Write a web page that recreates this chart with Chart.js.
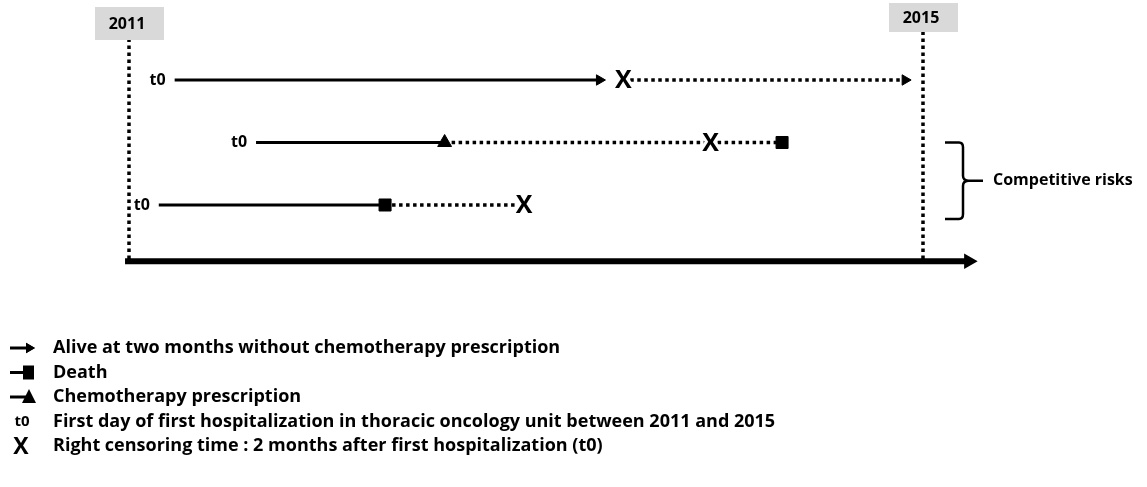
<!DOCTYPE html>
<html>
<head>
<meta charset="utf-8">
<script src="https://cdn.jsdelivr.net/npm/chart.js@4"></script>
<style>
  html, body { margin: 0; padding: 0; background: #fff; }
  #wrap { width: 1147px; height: 487px; }
</style>
</head>
<body>
<div id="wrap"><canvas id="timeline" width="1147" height="487"></canvas></div>
<script>
// rows of the diagram (1 = top)
const rowIds = [1, 2, 3];
// follow-up of each example patient, in calendar years
const t0Years = [2011.23, 2011.64, 2011.15];
const eventYears = [2013.37, 2012.59, 2012.29];
const eventKinds = ['alive', 'chemo', 'death'];
const censorYears = [2013.49, 2013.93, 2012.99];
const dottedFromYears = [2013.49, 2012.59, 2012.29];
const dottedToYears = [2014.91, 2014.29, 2012.99];
const dottedEndKinds = ['alive', 'death', null];
// study period
const periodYears = [2011, 2015];
const periodLabels = ['2011', '2015'];
const axisYears = [2010.98, 2015.23];
const axisRow = 3.9;
const braceRows = [2, 3];
const braceLabel = 'Competitive risks';

const legendIcons = ['alive', 'death', 'chemo', 't0', 'censor'];
const legendTexts = [
	'Alive at two months without chemotherapy prescription',
	'Death',
	'Chemotherapy prescription',
	'First day of first hospitalization in thoracic oncology unit between 2011 and 2015',
	'Right censoring time : 2 months after first hospitalization (t0)',
];

const FONT = '"Open Sans", Lato, sans-serif';
const BLACK = '#000';

const markerStyle = (kind) => {
	if (kind == 'alive') return { pointStyle: 'triangle', radius: 6, rotation: 90 };
	if (kind == 'chemo') return { pointStyle: 'triangle', radius: 8, rotation: 0 };
	if (kind == 'death') return { pointStyle: 'rect', radius: 8.5, rotation: 0 };
	return null;
};

const datasets = [];

// dotted vertical lines at the start and end of the period
periodYears.forEach((yr) => {
	datasets.push({
		data: [{ x: yr, y: 0 }, { x: yr, y: axisRow }],
		borderColor: BLACK,
		borderWidth: 3.5,
		borderDash: [3.5, 3.5],
		pointRadius: 0,
	});
});

// time axis
datasets.push({
	data: [{ x: axisYears[0], y: axisRow }, { x: axisYears[1], y: axisRow }],
	borderColor: BLACK,
	backgroundColor: BLACK,
	borderWidth: 6,
	borderCapStyle: 'butt',
	pointRadius: [0, 9],
	pointStyle: 'triangle',
	pointRotation: 90,
	pointBorderWidth: 0,
});

rowIds.forEach((row, i) => {
	// observed follow-up (solid)
	datasets.push({
		data: [{ x: t0Years[i], y: row }, { x: eventYears[i], y: row }],
		borderColor: BLACK,
		borderWidth: 3,
		pointRadius: 0,
	});
	// after event / censoring (dotted)
	datasets.push({
		data: [{ x: dottedFromYears[i], y: row }, { x: dottedToYears[i], y: row }],
		borderColor: BLACK,
		borderWidth: 3.5,
		borderDash: [3.5, 3.5],
		pointRadius: 0,
	});
});

// markers
const markerPoints = [];
rowIds.forEach((row, i) => {
	markerPoints.push({ x: eventYears[i], y: row, kind: eventKinds[i] });
	if (dottedEndKinds[i]) markerPoints.push({ x: dottedToYears[i], y: row, kind: dottedEndKinds[i] });
});
datasets.push({
	data: markerPoints,
	showLine: false,
	backgroundColor: BLACK,
	borderColor: BLACK,
	pointBorderWidth: 1,
	pointStyle: (ctx) => markerStyle(ctx.raw.kind).pointStyle,
	pointRadius: (ctx) => markerStyle(ctx.raw.kind).radius,
	pointRotation: (ctx) => markerStyle(ctx.raw.kind).rotation,
});

const drawX = (ctx, x, y, size) => {
	ctx.save();
	ctx.font = 'bold ' + size + 'px ' + FONT;
	ctx.textAlign = 'center';
	ctx.textBaseline = 'middle';
	ctx.lineWidth = 6;
	ctx.strokeStyle = '#fff';
	ctx.lineJoin = 'round';
	ctx.strokeText('X', x, y + 1);
	ctx.fillStyle = BLACK;
	ctx.fillText('X', x, y + 1);
	ctx.restore();
};

const annotations = {
	id: 'annotations',
	afterDatasetsDraw(chart) {
		const { ctx, scales: { x, y } } = chart;

		// year boxes
		const boxTops = [7, 3];
		const boxHeights = [33, 29];
		periodYears.forEach((yr, i) => {
			const px = x.getPixelForValue(yr);
			ctx.fillStyle = '#d9d9d9';
			ctx.fillRect(px - 34, boxTops[i], 69, boxHeights[i]);
			ctx.fillStyle = BLACK;
			ctx.font = 'bold 16px ' + FONT;
			ctx.textAlign = 'center';
			ctx.textBaseline = 'middle';
			ctx.fillText(periodLabels[i], px - 2, boxTops[i] + boxHeights[i] / 2 + 1);
		});

		// t0 labels and censoring marks
		rowIds.forEach((row, i) => {
			const py = y.getPixelForValue(row);
			ctx.fillStyle = BLACK;
			ctx.font = 'bold 16px ' + FONT;
			ctx.textAlign = 'right';
			ctx.textBaseline = 'middle';
			ctx.fillText('t0', x.getPixelForValue(t0Years[i]) - 9, py);
			drawX(ctx, x.getPixelForValue(censorYears[i]), py, 25);
		});

		// brace
		const bx = x.getPixelForValue(2015) + 22;
		const top = y.getPixelForValue(braceRows[0]);
		const bot = y.getPixelForValue(braceRows[1]) + 14;
		const mid = (top + bot) / 2;
		ctx.save();
		ctx.strokeStyle = BLACK;
		ctx.lineWidth = 2.5;
		ctx.beginPath();
		ctx.moveTo(bx, top);
		ctx.lineTo(bx + 14, top);
		ctx.quadraticCurveTo(bx + 18, top, bx + 18, top + 5);
		ctx.lineTo(bx + 18, mid - 5);
		ctx.quadraticCurveTo(bx + 18, mid, bx + 24, mid);
		ctx.lineTo(bx + 38, mid);
		ctx.moveTo(bx + 24, mid);
		ctx.quadraticCurveTo(bx + 18, mid, bx + 18, mid + 5);
		ctx.lineTo(bx + 18, bot - 5);
		ctx.quadraticCurveTo(bx + 18, bot, bx + 14, bot);
		ctx.lineTo(bx, bot);
		ctx.stroke();
		ctx.restore();
		ctx.fillStyle = BLACK;
		ctx.font = 'bold 16px ' + FONT;
		ctx.textAlign = 'left';
		ctx.textBaseline = 'middle';
		ctx.fillText(braceLabel, bx + 48, mid);

		// legend
		const lx = 10, tx = 53, ly0 = 348, step = 24.5;
		legendIcons.forEach((icon, i) => {
			const ly = ly0 + i * step;
			ctx.save();
			ctx.fillStyle = BLACK;
			ctx.strokeStyle = BLACK;
			ctx.lineWidth = 3;
			if (icon == 'alive') {
				ctx.beginPath(); ctx.moveTo(lx, ly); ctx.lineTo(lx + 18, ly); ctx.stroke();
				Chart.helpers.drawPoint(ctx, { pointStyle: 'triangle', radius: 6, rotation: 90, borderWidth: 0 }, lx + 19, ly);
				ctx.fill();
			} else if (icon == 'death') {
				ctx.beginPath(); ctx.moveTo(lx, ly); ctx.lineTo(lx + 14, ly); ctx.stroke();
				ctx.fillRect(lx + 13, ly - 7, 11, 14);
			} else if (icon == 'chemo') {
				ctx.beginPath(); ctx.moveTo(lx, ly); ctx.lineTo(lx + 16, ly); ctx.stroke();
				ctx.beginPath();
				ctx.moveTo(lx + 19, ly - 8); ctx.lineTo(lx + 26, ly + 6); ctx.lineTo(lx + 12, ly + 6);
				ctx.closePath(); ctx.fill();
			} else if (icon == 't0') {
				ctx.font = 'bold 15px ' + FONT;
				ctx.textAlign = 'center';
				ctx.textBaseline = 'middle';
				ctx.fillText('t0', lx + 12, ly);
			} else if (icon == 'censor') {
				drawX(ctx, lx + 11, ly, 23);
			}
			ctx.restore();
			ctx.fillStyle = BLACK;
			ctx.font = 'bold 18px ' + FONT;
			ctx.textAlign = 'left';
			ctx.textBaseline = 'middle';
			ctx.fillText(legendTexts[i], tx, ly);
		});
	},
};

new Chart('timeline', {
	type: 'scatter',
	data: { datasets },
	options: {
		responsive: false,
		animation: false,
		devicePixelRatio: 1,
		showLine: true,
		layout: { padding: { left: 29.75, right: 25.5, top: 17.5, bottom: 188.25 } },
		elements: { line: { borderCapStyle: 'butt', tension: 0 } },
		datasets: { scatter: { showLine: true, clip: false } },
		scales: {
			x: { type: 'linear', min: 2010.5, max: 2016, display: false },
			y: { type: 'linear', min: 0, max: 4.5, reverse: true, display: false },
		},
		plugins: { legend: { display: false }, tooltip: { enabled: false } },
	},
	plugins: [annotations],
});
</script>
</body>
</html>
